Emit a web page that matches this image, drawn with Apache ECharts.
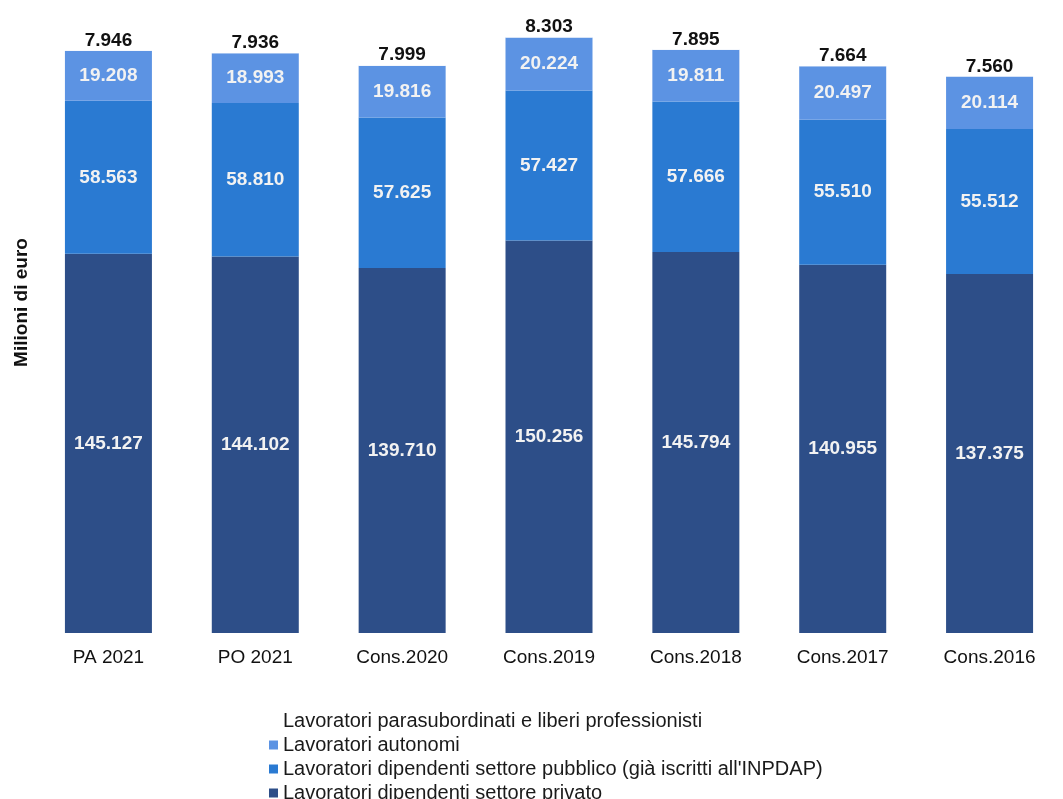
<!DOCTYPE html>
<html>
<head>
<meta charset="utf-8">
<script src="https://cdn.jsdelivr.net/npm/echarts@6/dist/echarts.min.js"></script>
<style>
html,body{margin:0;padding:0;background:#fff;}
#chart{width:1063px;height:799px;}
</style>
</head>
<body>
<div id="chart"></div>
<script>
const categories = ['PA 2021','PO 2021','Cons.2020','Cons.2019','Cons.2018','Cons.2017','Cons.2016'];
const privato = [145.127,144.102,139.710,150.256,145.794,140.955,137.375];
const pubblico = [58.563,58.810,57.625,57.427,57.666,55.510,55.512];
const autonomi = [19.208,18.993,19.816,20.224,19.811,20.497,20.114];
const parasubordinati = [7.946,7.936,7.999,8.303,7.895,7.664,7.560];

const names = {
  para: 'Lavoratori parasubordinati e liberi professionisti',
  auto: 'Lavoratori autonomi',
  pubb: "Lavoratori dipendenti settore pubblico (già iscritti all'INPDAP)",
  priv: 'Lavoratori dipendenti settore privato'
};

const fmt = p => p.value.toFixed(3);
const font = 'Arial, "Liberation Sans", sans-serif';
const inLabel = {show:true, position:'inside', formatter: fmt, color:'#f2f2f2', fontSize:19, fontWeight:'bold', fontFamily:font};

const chart = echarts.init(document.getElementById('chart'), null, {renderer:'canvas'});
chart.setOption({
  animation:false,
  backgroundColor:'#fff',
  grid:{left:35, right:-18, top:6, bottom:166, containLabel:false},
  legend:{
    orient:'vertical', left:264, top:706, height:93,
    icon:'rect', itemWidth:9, itemHeight:9, itemGap:4,
    data:[names.para, names.auto, names.pubb, names.priv],
    textStyle:{fontSize:20, color:'#1a1a1a', fontFamily:font, lineHeight:20},
    selectedMode:false
  },
  xAxis:{
    type:'category', data:categories,
    axisLine:{show:false}, axisTick:{show:false},
    axisLabel:{fontSize:19, color:'#111', fontFamily:font, margin:15}
  },
  yAxis:{
    type:'value', min:0, max:240,
    axisLine:{show:false}, axisTick:{show:false}, axisLabel:{show:false}, splitLine:{show:false},
    name:'Milioni di euro', nameLocation:'middle', nameGap:4,
    nameTextStyle:{fontSize:19, fontWeight:'bold', color:'#111', fontFamily:font, padding:[0,0,0,34]}
  },
  series:[
    {name:names.priv, type:'bar', stack:'t', data:privato, barWidth:87,
     itemStyle:{color:'#2d4e88'}, label:inLabel},
    {name:names.pubb, type:'bar', stack:'t', data:pubblico, barWidth:87,
     itemStyle:{color:'#2a7ad2'}, label:inLabel},
    {name:names.auto, type:'bar', stack:'t', data:autonomi, barWidth:87,
     itemStyle:{color:'#5c93e3'}, label:inLabel},
    {name:names.para, type:'bar', stack:'t', data:parasubordinati, barWidth:87,
     itemStyle:{color:'#ffffff'},
     label:{show:true, position:'inside', formatter: fmt, color:'#111', fontSize:19, fontWeight:'bold', fontFamily:font}}
  ]
});
</script>
</body>
</html>
